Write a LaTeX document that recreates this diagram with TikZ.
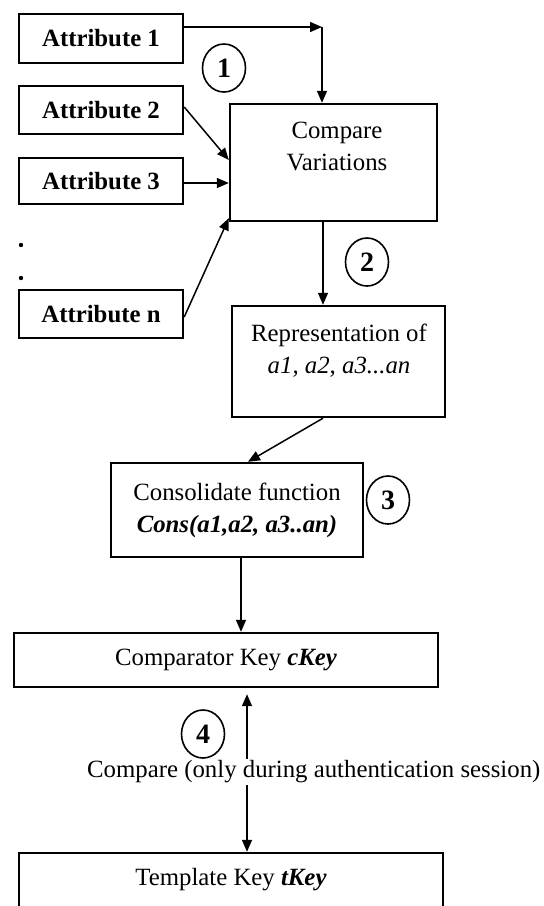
\documentclass[tikz,border=0pt]{standalone}
\usepackage{fontspec}
\setmainfont{Liberation Serif}
\usetikzlibrary{arrows.meta,shapes.geometric}
\begin{document}
\begin{tikzpicture}[x=1pt,y=-1pt,
  box/.style={draw, line width=2.4pt, inner sep=0pt, align=center},
  attr/.style={box, minimum width=164pt, font=\fontsize{24.8}{30}\selectfont\bfseries},
  txt/.style={inner sep=0pt, align=center, font=\fontsize{24.8}{32}\selectfont},
  num/.style={draw, ellipse, line width=1.6pt, minimum width=43pt, minimum height=48pt, inner sep=0pt, font=\fontsize{28}{30}\selectfont\bfseries},
  arr/.style={line width=1.5pt, -{Triangle[length=12pt,width=10pt]}},
  dbl/.style={line width=1.5pt, {Triangle[length=12pt,width=10pt]}-{Triangle[length=12pt,width=10pt]}}]
\useasboundingbox (0,0) rectangle (544,906);
\clip (0,0) rectangle (544,906);
% attribute boxes
\node[attr, minimum height=49pt] (a1) at (101,38.5) {Attribute 1};
\node[attr, minimum height=48pt] (a2) at (101,110) {Attribute 2};
\node[attr, minimum height=46pt] (a3) at (101,181) {Attribute 3};
\node[attr, minimum height=48pt] (an) at (101,314) {Attribute n};
\fill (21,245) circle (2.2pt);
\fill (21,278) circle (2.2pt);
% main boxes
\node[box, minimum width=207pt, minimum height=117pt] (cv) at (333.5,162.5) {};
\node[txt, anchor=north] (cvt) at (337,122) {Compare\\Variations};
\node[box, minimum width=213pt, minimum height=111pt] (rep) at (338.5,361.5) {};
\node[txt, anchor=north] (rept) at (339,324) {Representation of\\\itshape a1, a2, a3...an};
\node[box, minimum width=252pt, minimum height=94pt, txt, draw, line width=2.4pt] (cons) at (237,510) {Consolidate function\\\bfseries\itshape Cons(a1,a2, a3..an)};
\node[box, minimum width=424pt, minimum height=54pt, font=\fontsize{24.8}{30}\selectfont] (ck) at (226,660) {Comparator Key \textbf{\textit{cKey}}};
\node[box, minimum width=424pt, minimum height=60pt] (tk) at (231,883) {};
\node[txt] (tkt) at (231,880) {Template Key \textbf{\textit{tKey}}};
% numbered circles
\node[num] (c1) at (224,68) {1};
\node[num] (c2) at (367,262) {2};
\node[num] (c3) at (388,500) {3};
\node[num] (c4) at (203,734) {4};
% connectors
\coordinate (k1) at (322,27);
\draw[arr] ([yshift=11.5pt]a1.east) -- (k1);
\draw[arr] (k1) -- (k1 |- cv.north);
\draw[arr] ([yshift=3pt]a2.east) -- ([yshift=2.5pt]cv.west);
\draw[arr] ([yshift=-2pt]a3.east) -- ([yshift=-2pt]a3.east -| cv.west);
\draw[arr] ([yshift=-3pt]an.east) -- ([yshift=4pt]cv.south west);
\draw[arr] ([xshift=-10.5pt]cv.south) -- ([xshift=-10.5pt]cv.south |- rep.north);
\draw[arr] ([xshift=-15.5pt]rep.south) -- ([xshift=11pt]cons.north);
\draw[arr] ([xshift=4pt]cons.south) -- ([xshift=4pt]cons.south |- ck.north);
\draw[dbl] ([xshift=21pt,yshift=-6pt]ck.south) -- ([xshift=21pt]ck.south |- tk.north);
\node[txt, fill=white, inner sep=2pt, anchor=west] (cmp) at (85,772) {Compare (only during authentication session)};
\end{tikzpicture}
\end{document}
